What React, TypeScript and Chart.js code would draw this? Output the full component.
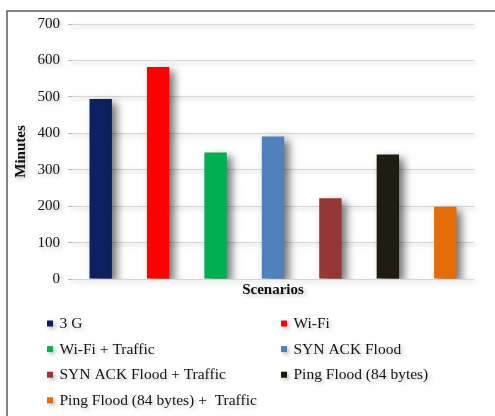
import React, { useEffect, useRef } from "react";
import { Chart, registerables } from "chart.js";

Chart.register(...registerables);

// Scenario names, measured durations (minutes) and bar colours
const scenarios = [
  "3 G",
  "Wi-Fi",
  "Wi-Fi + Traffic",
  "SYN ACK Flood",
  "SYN ACK Flood + Traffic",
  "Ping Flood (84 bytes)",
  "Ping Flood (84 bytes) +  Traffic",
];
const minutes = [494, 582, 347, 391, 222, 342, 198];
const barColors = ["#0c1f5e", "#ff0000", "#00b050", "#4f81bd", "#953735", "#1e1c11", "#e46c0a"];
const yTicks = [0, 100, 200, 300, 400, 500, 600, 700];

const SERIF = "'Liberation Serif', 'Times New Roman', serif";

// Soft drop shadow under everything the chart paints, deeper under the bars
const shadowPlugin = {
  id: "softShadow",
  beforeDraw(chart: any) {
    const ctx = chart.ctx;
    ctx.save();
    ctx.shadowColor = "rgba(0,0,0,0.28)";
    ctx.shadowBlur = 4;
    ctx.shadowOffsetX = 2;
    ctx.shadowOffsetY = 2;
  },
  beforeDatasetsDraw(chart: any) {
    const ctx = chart.ctx;
    ctx.save();
    ctx.shadowColor = "rgba(0,0,0,0.55)";
    ctx.shadowBlur = 8;
    ctx.shadowOffsetX = 5;
    ctx.shadowOffsetY = 4;
  },
  afterDatasetsDraw(chart: any) {
    chart.ctx.restore();
  },
  afterDraw(chart: any) {
    chart.ctx.restore();
  },
};

// Two-column legend under the axis title, plus the frame lines
const legendPlugin = {
  id: "twoColumnLegend",
  afterDraw(chart: any) {
    const ctx = chart.ctx;
    const colors = chart.data.datasets[0].backgroundColor as string[];
    const labels = chart.data.labels as string[];
    const colX = [47, 281];
    const rowY0 = 323.5;
    const rowGap = 25.6;
    ctx.save();
    ctx.shadowColor = "rgba(0,0,0,0.28)";
    ctx.shadowBlur = 4;
    ctx.shadowOffsetX = 2;
    ctx.shadowOffsetY = 2;
    ctx.font = `15.5px ${SERIF}`;
    ctx.textBaseline = "middle";
    ctx.textAlign = "left";
    labels.forEach((label, i) => {
      const x = colX[i % 2];
      const y = rowY0 + Math.floor(i / 2) * rowGap;
      ctx.fillStyle = colors[i];
      ctx.fillRect(x, y - 3, 6, 6);
      ctx.fillStyle = "#151515";
      ctx.fillText(label, x + 12.5, y + 0.5);
    });
    ctx.restore();

    ctx.save();
    ctx.strokeStyle = "#5a5a5a";
    ctx.lineWidth = 1.5;
    ctx.beginPath();
    ctx.moveTo(7, chart.height);
    ctx.lineTo(7, 11);
    ctx.lineTo(chart.width, 11);
    ctx.stroke();
    ctx.restore();
  },
};

export default function App() {
  const canvasRef = useRef<HTMLCanvasElement | null>(null);

  useEffect(() => {
    if (!canvasRef.current) return;
    const chart = new Chart(canvasRef.current, {
      type: "bar",
      data: {
        labels: scenarios,
        datasets: [
          {
            label: "Minutes",
            data: minutes,
            backgroundColor: barColors,
            borderWidth: 0,
            categoryPercentage: 1,
            barPercentage: 0.39,
          },
        ],
      },
      options: {
        animation: false,
        responsive: false,
        devicePixelRatio: 1,
        layout: { padding: { left: 8, top: 24, right: 21, bottom: 115 } },
        plugins: {
          legend: { display: false },
          tooltip: { enabled: false },
        },
        scales: {
          x: {
            grid: { display: false, drawTicks: false, tickLength: 0 },
            border: { display: false },
            ticks: { display: false },
            title: {
              display: true,
              text: "Scenarios",
              color: "#111",
              font: { family: SERIF, size: 15, weight: "bold" },
              padding: { top: 2, bottom: 2 },
            },
          },
          y: {
            min: 0,
            max: 700,
            afterFit(scale: any) {
              scale.width = 64;
              scale.paddingTop = 0;
              scale.paddingBottom = 0;
            },
            afterBuildTicks(scale: any) {
              scale.ticks = yTicks.map((v) => ({ value: v }));
            },
            grid: { color: "#d6d6d6", lineWidth: 1, tickLength: 4, tickColor: "#bbb" },
            border: { display: false },
            ticks: {
              color: "#151515",
              padding: 8,
              font: { family: SERIF, size: 15 },
            },
            title: {
              display: true,
              text: "Minutes",
              color: "#111",
              font: { family: SERIF, size: 15, weight: "bold" },
              padding: { top: 4, bottom: 4 },
            },
          },
        },
      },
      plugins: [shadowPlugin, legendPlugin],
    });
    return () => chart.destroy();
  }, []);

  return (
    <div style={{ position: "fixed", left: 0, top: 0, width: 495, height: 416, background: "#fff" }}>
      <canvas ref={canvasRef} width={495} height={416} style={{ display: "block" }} />
    </div>
  );
}
